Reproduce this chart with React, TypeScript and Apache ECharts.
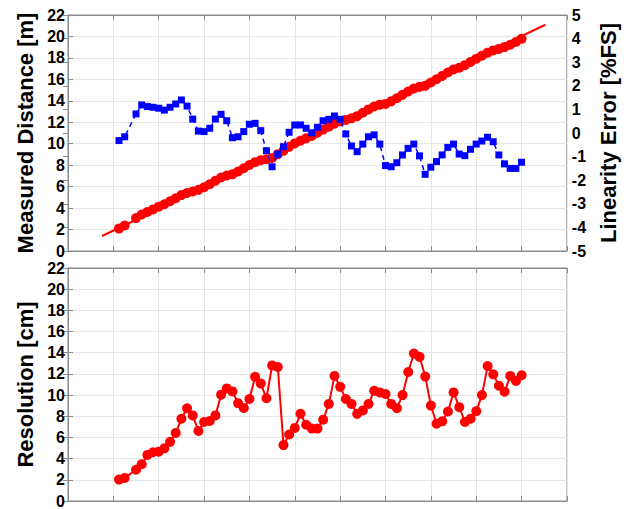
import React, { useEffect, useRef } from "react";
import * as echarts from "echarts";

// True target distance [m] for each measurement step
const distance = [
  2.25, 2.5, 3, 3.25, 3.5, 3.75, 4, 4.25, 4.5, 4.75, 5, 5.25, 5.5, 5.75, 6, 6.25,
  6.5, 6.75, 7, 7.25, 7.5, 7.75, 8, 8.25, 8.5, 8.75, 9, 9.25, 9.5, 9.75, 10,
  10.25, 10.5, 10.75, 11, 11.25, 11.5, 11.75, 12, 12.25, 12.5, 12.75, 13, 13.25,
  13.5, 13.75, 14, 14.25, 14.5, 14.75, 15, 15.25, 15.5, 15.75, 16, 16.25, 16.5,
  16.75, 17, 17.25, 17.5, 17.75, 18, 18.25, 18.5, 18.75, 19, 19.25, 19.5, 19.75, 20,
];

// Measured distance [m]
const measured = [
  2.09, 2.38, 3.07, 3.4, 3.64, 3.88, 4.13, 4.36, 4.64, 4.92, 5.21, 5.41, 5.55, 5.7,
  5.94, 6.22, 6.55, 6.85, 7.04, 7.15, 7.41, 7.71, 8.02, 8.28, 8.47, 8.55, 8.67,
  9.03, 9.34, 9.71, 10.03, 10.28, 10.5, 10.72, 11.02, 11.32, 11.59, 11.87, 12.09,
  12.22, 12.37, 12.57, 12.89, 13.2, 13.47, 13.64, 13.71, 13.95, 14.24, 14.56,
  14.87, 15.15, 15.3, 15.4, 15.71, 16.01, 16.32, 16.64, 16.92, 17.08, 17.32,
  17.63, 17.92, 18.2, 18.48, 18.7, 18.84, 19.01, 19.23, 19.48, 19.78,
];

// Linearity error [%FS]
const linearityError = [
  -0.32, -0.16, 0.81, 1.19, 1.12, 1.09, 1.05, 0.97, 1.09, 1.23, 1.4, 1.14, 0.59,
  0.08, 0.06, 0.2, 0.59, 0.79, 0.52, -0.2, -0.16, 0.06, 0.37, 0.41, 0.1, -0.75,
  -1.43, -0.9, -0.58, 0.03, 0.34, 0.34, 0.2, 0.01, 0.24, 0.52, 0.58, 0.72, 0.58,
  -0.04, -0.55, -0.79, -0.47, -0.16, -0.08, -0.47, -1.38, -1.43, -1.26, -0.93,
  -0.65, -0.47, -0.97, -1.75, -1.45, -1.21, -0.93, -0.61, -0.47, -0.89, -0.96,
  -0.69, -0.47, -0.34, -0.18, -0.37, -0.93, -1.31, -1.5, -1.5, -1.24,
];

// Resolution [cm]
const resolution = [
  2.02, 2.18, 2.95, 3.48, 4.35, 4.6, 4.66, 4.97, 5.59, 6.43, 7.77, 8.76, 8.08,
  6.62, 7.46, 7.55, 8.08, 10.04, 10.63, 10.35, 9.23, 8.79, 9.63, 11.72, 11.09,
  9.7, 12.8, 12.65, 5.28, 6.28, 6.9, 8.23, 7.2, 6.84, 6.84, 7.68, 9.17, 11.81,
  10.78, 9.63, 9.17, 8.23, 8.55, 9.17, 10.41, 10.25, 10.1, 9.17, 8.76, 10.0,
  12.18, 13.92, 13.61, 11.75, 9.01, 7.3, 7.52, 8.45, 10.25, 8.86, 7.46, 7.77,
  8.48, 10.0, 12.74, 11.96, 10.88, 10.32, 11.81, 11.34, 11.87,
];

// Linear fit of measured vs. true distance (end points)
const fitX = [1.5, 21.05];
const fitY = [1.4, 21.09];

const FONT = '"Liberation Sans", Arial, Helvetica, sans-serif';
const AXIS_COLOR = "#8a8a8a";
const GRID_COLOR = "#e6e6e6";

const pairs = (xs: number[], ys: number[]) => xs.map((x, i) => [x, ys[i]]);

function xAxisDef(gridIndex: number, position: "top" | "bottom", grid: boolean) {
  return {
    gridIndex,
    type: "value",
    position,
    min: 0,
    max: 22,
    interval: 2,
    axisLine: { show: true, onZero: false, lineStyle: { color: AXIS_COLOR, width: 1 } },
    axisTick: { show: true, inside: true, length: 5, lineStyle: { color: AXIS_COLOR } },
    axisLabel: { show: false },
    splitLine: { show: grid, lineStyle: { color: GRID_COLOR, width: 1 } },
  };
}

const tickLabel = {
  fontSize: 16,
  fontWeight: "bold",
  color: "#000",
  fontFamily: FONT,
};

const nameStyle = {
  fontSize: 22,
  fontWeight: "bold",
  color: "#000",
  fontFamily: FONT,
};

export default function App() {
  const ref = useRef<HTMLDivElement>(null);

  useEffect(() => {
    if (!ref.current) return;
    const chart = echarts.init(ref.current, undefined, { renderer: "svg" });

    chart.setOption({
      animation: false,
      backgroundColor: "#ffffff",
      grid: [
        { left: 68, top: 15, width: 499, height: 236, show: true, borderColor: AXIS_COLOR, borderWidth: 1, backgroundColor: "#fff" },
        { left: 68, top: 268, width: 499, height: 235, show: true, borderColor: AXIS_COLOR, borderWidth: 1, backgroundColor: "#fff" },
      ],
      xAxis: [
        xAxisDef(0, "bottom", true),
        xAxisDef(0, "top", false),
        xAxisDef(1, "bottom", true),
        xAxisDef(1, "top", false),
      ],
      yAxis: [
        {
          gridIndex: 0,
          type: "value",
          position: "left",
          min: 0,
          max: 22,
          interval: 2,
          name: "Measured Distance [m]",
          nameLocation: "middle",
          nameRotate: 90,
          nameGap: 31,
          nameTextStyle: nameStyle,
          axisLine: { show: true, lineStyle: { color: AXIS_COLOR } },
          axisTick: { show: true, inside: true, length: 5, lineStyle: { color: AXIS_COLOR } },
          axisLabel: { ...tickLabel, margin: 3 },
          splitLine: { show: true, lineStyle: { color: GRID_COLOR } },
        },
        {
          gridIndex: 0,
          type: "value",
          position: "right",
          min: -5,
          max: 5,
          interval: 1,
          name: "Linearity Error [%FS]",
          nameLocation: "middle",
          nameRotate: 90,
          nameGap: 30,
          nameTextStyle: nameStyle,
          axisLine: { show: true, lineStyle: { color: AXIS_COLOR } },
          axisTick: { show: true, inside: true, length: 5, lineStyle: { color: AXIS_COLOR } },
          axisLabel: { ...tickLabel, margin: 5 },
          splitLine: { show: false },
        },
        {
          gridIndex: 1,
          type: "value",
          position: "left",
          min: 0,
          max: 22,
          interval: 2,
          name: "Resolution [cm]",
          nameLocation: "middle",
          nameRotate: 90,
          nameGap: 31,
          nameTextStyle: nameStyle,
          axisLine: { show: true, lineStyle: { color: AXIS_COLOR } },
          axisTick: { show: true, inside: true, length: 5, lineStyle: { color: AXIS_COLOR } },
          axisLabel: { ...tickLabel, margin: 3 },
          splitLine: { show: true, lineStyle: { color: GRID_COLOR } },
        },
        {
          gridIndex: 1,
          type: "value",
          position: "right",
          min: 0,
          max: 22,
          interval: 2,
          axisLine: { show: true, lineStyle: { color: AXIS_COLOR } },
          axisTick: { show: true, inside: true, length: 5, lineStyle: { color: AXIS_COLOR } },
          axisLabel: { show: false },
          splitLine: { show: false },
        },
      ],
      series: [
        {
          name: "Fit",
          type: "line",
          xAxisIndex: 0,
          yAxisIndex: 0,
          data: pairs(fitX, fitY),
          showSymbol: false,
          symbol: "none",
          lineStyle: { color: "#ff0000", width: 2 },
          z: 2,
        },
        {
          name: "Measured Distance",
          type: "scatter",
          xAxisIndex: 0,
          yAxisIndex: 0,
          data: pairs(distance, measured),
          symbol: "circle",
          symbolSize: 10,
          itemStyle: { color: "#ff0000", opacity: 1 },
          z: 3,
        },
        {
          name: "Linearity Error",
          type: "line",
          xAxisIndex: 0,
          yAxisIndex: 1,
          data: pairs(distance, linearityError),
          symbol: "rect",
          symbolSize: 7,
          showAllSymbol: true,
          itemStyle: { color: "#0000ff", borderWidth: 0, opacity: 1 },
          lineStyle: { color: "#0000ff", width: 1.5, type: [5, 4] },
          z: 4,
        },
        {
          name: "Resolution",
          type: "line",
          xAxisIndex: 2,
          yAxisIndex: 2,
          data: pairs(distance, resolution),
          symbol: "circle",
          symbolSize: 10,
          showAllSymbol: true,
          itemStyle: { color: "#ff0000", borderWidth: 0, opacity: 1 },
          lineStyle: { color: "#ff0000", width: 2 },
          z: 3,
        },
      ],
    });

    return () => chart.dispose();
  }, []);

  return (
    <div
      ref={ref}
      style={{ position: "fixed", left: 0, top: 0, width: 627, height: 509, background: "#fff" }}
    />
  );
}
